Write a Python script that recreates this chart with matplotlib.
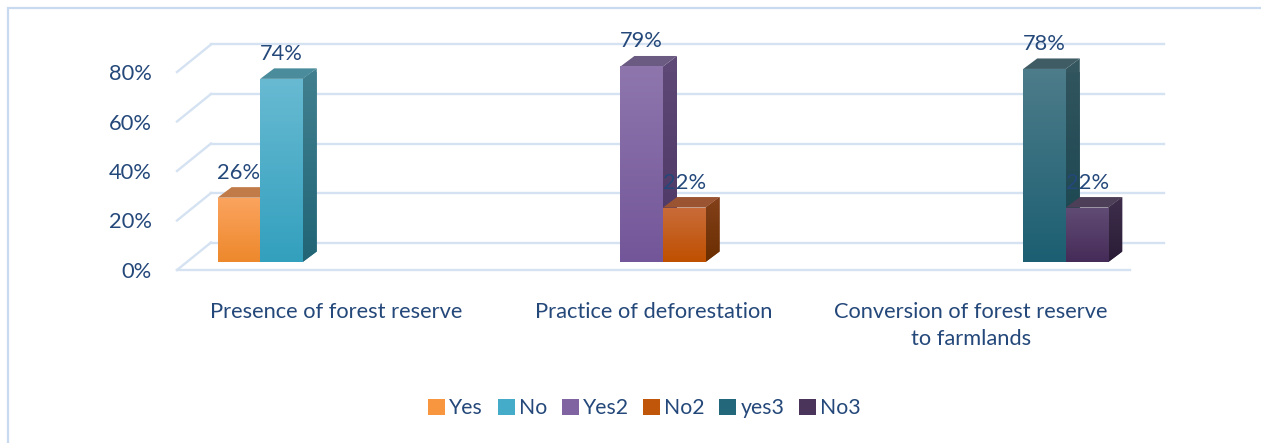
import numpy as np
import matplotlib
matplotlib.use("Agg")
import matplotlib.pyplot as plt
from matplotlib.transforms import ScaledTranslation, IdentityTransform
from matplotlib.patches import Polygon, Rectangle
from matplotlib.lines import Line2D
from matplotlib.colors import LinearSegmentedColormap

# ---------------- data ----------------
categories = ["Presence of forest reserve", "Practice of deforestation",
              "Conversion of forest reserve\nto farmlands"]
series = ["Yes", "No", "Yes2", "No2", "yes3", "No3"]
yes = [26, None, None]
no = [74, None, None]
yes2 = [None, 79, None]
no2 = [None, 22, None]
yes3 = [None, None, 78]
no3 = [None, None, 22]
yticks = [0, 20, 40, 60, 80]
ytick_labels = ["0%", "20%", "40%", "60%", "80%"]
values = [yes, no, yes2, no2, yes3, no3]

# ---------------- style ----------------
legend_colors = ["#f8963f", "#44abc8", "#8064a2", "#c0560a", "#22677a", "#4a3459"]
front_cols = [("#fba45f", "#ed882c"), ("#68bad2", "#33a0be"), ("#8e76ad", "#735699"),
              ("#c96c3a", "#bf5000"), ("#4d7c8a", "#1c5f72"), ("#614c75", "#452c58")]
side_cols = [("#9a5a25", "#8a4a18"), ("#42808f", "#216576"), ("#5e4876", "#4c3764"),
             ("#83401a", "#6a2e00"), ("#33565f", "#17444f"), ("#3e2e4c", "#2a1c36")]
top_cols = ["#c17b49", "#4b8c9c", "#6b5a82", "#9a5432", "#3f5c65", "#4c3f57"]
TXT = "#24487a"
GRID = "#d5e2f2"
FONT = ["Lato", "DejaVu Sans"]
plt.rcParams['font.family'] = FONT

W, H, DPI = 1261, 443, 100
fig = plt.figure(figsize=(W / DPI, H / DPI), dpi=DPI)
fig.patch.set_facecolor("white")

# calibrate font size to the reference text width
t = fig.text(0, 0, "Presence of forest reserve", fontsize=10)
fig.canvas.draw()
FS = 10 * 254 / t.get_window_extent().width
t.remove()

# outer chart border
fig.patches.append(Rectangle((8 / W, -0.2), 2, 1 - 8 / H + 0.2, transform=fig.transFigure,
                             fill=False, ec="#c8daf0", lw=1.6))

FL, FR, FB, FT = 177, 1130, 270, 72
ax = fig.add_axes([FL / W, 1 - FB / H, (FR - FL) / W, (FB - FT) / H])
ax.set_facecolor("none")
for s in ax.spines.values():
    s.set_visible(False)
ax.set_xlim(0, 3)
ax.set_ylim(0, 80)
ax.set_autoscale_on(False)

BACK = (34, 27.5)      # back wall offset (px)
BARP = (9.5, 8.0)      # bar plane offset (px)
DEP = (14.0, 10.5)     # bar depth (px)


def off(dx, dy):
    return ax.transData + ScaledTranslation(dx / DPI, dy / DPI, fig.dpi_scale_trans)


# gridlines: back wall, left side wall diagonals, front floor edge
for y in yticks:
    ax.plot([0, 3], [y, y], transform=off(*BACK), color=GRID, lw=1.7, clip_on=False, zorder=0)
    p0 = ax.transData.transform((0, y))
    ax.add_line(Line2D([p0[0], p0[0] + BACK[0]], [p0[1], p0[1] + BACK[1]],
                       transform=IdentityTransform(), color=GRID, lw=1.7, zorder=0,
                       clip_on=False))
ax.plot([0, 3], [0, 0], color=GRID, lw=1.7, clip_on=False, zorder=0)


def grad_fill(patch, c_top, c_bot, z):
    verts = patch.get_path().vertices
    trans = patch.get_transform()
    d = trans.transform(verts)
    x0, x1 = d[:, 0].min(), d[:, 0].max()
    y0, y1 = d[:, 1].min(), d[:, 1].max()
    cmap = LinearSegmentedColormap.from_list("g", [c_bot, c_top])
    g = np.linspace(0, 1, 64).reshape(-1, 1)
    im = ax.imshow(g, cmap=cmap, extent=[x0, x1, y0, y1], origin="lower",
                   transform=IdentityTransform(), aspect="auto", zorder=z,
                   interpolation="bilinear")
    im.set_clip_path(patch)


bw = 0.134
bar_tr = off(*BARP)
z = 2
for i in range(len(categories)):
    for j, vals in enumerate(values):
        v = vals[i]
        if v is None:
            continue
        xc = i + 0.5 + (j - 2.5) * bw
        x0, x1 = xc - bw / 2, xc + bw / 2
        br = bar_tr.transform((x1, 0))
        tl = bar_tr.transform((x0, v))
        tr = bar_tr.transform((x1, v))
        dx, dy = DEP
        side = Polygon([br, br + (dx, dy), tr + (dx, dy), tr], closed=True,
                       transform=IdentityTransform(), fc=side_cols[j][0], ec="none",
                       zorder=z, clip_on=False)
        ax.add_patch(side)
        grad_fill(side, side_cols[j][0], side_cols[j][1], z + 0.1)
        top = Polygon([tl, tr, tr + (dx, dy), tl + (dx, dy)], closed=True,
                      transform=IdentityTransform(), fc=top_cols[j], ec="none",
                      zorder=z + 0.2, clip_on=False)
        ax.add_patch(top)
        bars = ax.bar([xc], [v], width=bw, transform=bar_tr, color=front_cols[j][1],
                      zorder=z + 0.3, lw=0, clip_on=False)
        grad_fill(bars.patches[0], front_cols[j][0], front_cols[j][1], z + 0.4)
        ax.text(xc, v, f"{v}%", transform=off(BARP[0], BARP[1] + 25), ha="center",
                va="center", fontsize=FS, color=TXT, zorder=50)
        z += 1

ax.set_xlim(0, 3)
ax.set_ylim(0, 80)
ax.set_yticks(yticks, ytick_labels)
ax.set_xticks([0.5, 1.5, 2.5], categories)
ax.tick_params(axis="y", length=0, pad=18, labelsize=FS, labelcolor=TXT)
ax.tick_params(axis="x", length=0, pad=23, labelsize=FS, labelcolor=TXT)
for lab in ax.get_xticklabels():
    lab.set_linespacing(1.45)

handles = [Rectangle((0, 0), 1, 1, fc=c, ec="none") for c in legend_colors]
fig.legend(handles, series, loc="center", bbox_to_anchor=(644.5 / W, 1 - 408.5 / H), ncol=6,
           frameon=False, fontsize=FS * 0.97, labelcolor=TXT, handlelength=0.8,
           handleheight=0.8, handletextpad=0.2, columnspacing=0.68, borderpad=0)

fig.savefig("out.png", dpi=DPI, facecolor="white")
